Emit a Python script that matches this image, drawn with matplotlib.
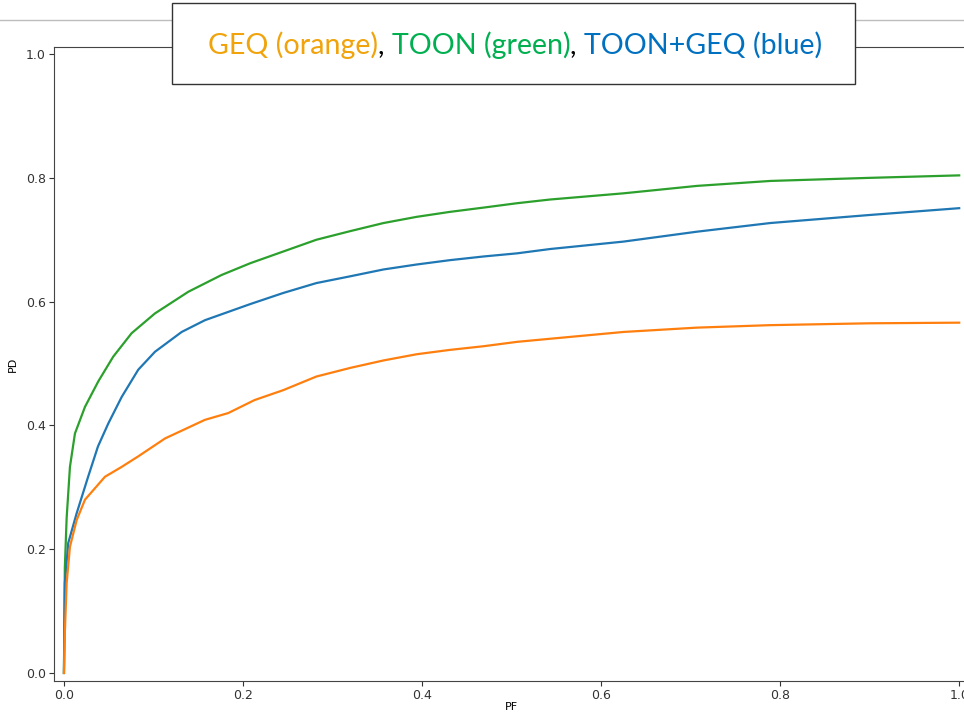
import matplotlib
matplotlib.use('Agg')
import matplotlib.pyplot as plt
from matplotlib.patches import Rectangle
from matplotlib.lines import Line2D

# ROC-like curves (PF -> PD)
geq_pf = [0, 0.001, 0.003, 0.0067, 0.0142, 0.0235, 0.0458, 0.0645, 0.083, 0.113, 0.1575,
          0.1836, 0.213, 0.245, 0.282, 0.32, 0.357, 0.394, 0.431, 0.469, 0.506, 0.543,
          0.625, 0.707, 0.789, 0.9, 1.0]
geq_pd = [0, 0.065, 0.145, 0.204, 0.247, 0.28, 0.317, 0.333, 0.35, 0.379, 0.409,
          0.42, 0.441, 0.457, 0.479, 0.493, 0.505, 0.515, 0.522, 0.528, 0.535, 0.540,
          0.551, 0.558, 0.562, 0.565, 0.566]

toon_pf = [0, 0.001, 0.003, 0.0067, 0.0123, 0.0235, 0.0383, 0.055, 0.0756, 0.1017, 0.139,
           0.176, 0.208, 0.245, 0.282, 0.32, 0.357, 0.394, 0.431, 0.469, 0.506, 0.543,
           0.625, 0.707, 0.789, 0.9, 1.0]
toon_pd = [0, 0.17, 0.25, 0.333, 0.387, 0.43, 0.471, 0.511, 0.549, 0.581, 0.616,
           0.643, 0.662, 0.681, 0.70, 0.714, 0.727, 0.737, 0.745, 0.752, 0.759, 0.765,
           0.775, 0.787, 0.795, 0.800, 0.804]

both_pf = [0, 0.001, 0.0048, 0.0142, 0.027, 0.038, 0.0495, 0.0645, 0.083, 0.1017, 0.1315,
           0.1575, 0.208, 0.245, 0.282, 0.32, 0.357, 0.394, 0.431, 0.469, 0.506, 0.543,
           0.625, 0.707, 0.789, 0.9, 1.0]
both_pd = [0, 0.145, 0.21, 0.258, 0.317, 0.366, 0.403, 0.446, 0.49, 0.519, 0.551,
           0.57, 0.596, 0.614, 0.63, 0.641, 0.652, 0.66, 0.667, 0.673, 0.678, 0.685,
           0.697, 0.713, 0.727, 0.740, 0.751]

title_parts = [('GEQ (orange)', '#F0A30A'), (', ', 'black'),
               ('TOON (green)', '#00B050'), (', ', 'black'),
               ('TOON+GEQ (blue)', '#0070C0')]

fig = plt.figure(figsize=(9.64, 7.14), dpi=100)

# slide decoration line behind the title box
fig.add_artist(Line2D([0, 1], [0.972, 0.972], color='#bdbdbd', lw=1.0))

ax = fig.add_axes([0.0563, 0.0462, 0.948, 0.8876])
ax.plot(toon_pf, toon_pd, color='tab:green', lw=1.6)
ax.plot(both_pf, both_pd, color='tab:blue', lw=1.6)
ax.plot(geq_pf, geq_pd, color='tab:orange', lw=1.6)
ax.set_xlim(-0.0108, 1.01)
ax.set_ylim(-0.013, 1.011)
ax.set_xticks([0, 0.2, 0.4, 0.6, 0.8, 1.0])
ax.set_yticks([0, 0.2, 0.4, 0.6, 0.8, 1.0])
ax.tick_params(labelsize=9, colors='#333333', pad=2.5)
ax.set_xlabel('PF', fontsize=8, labelpad=0)
ax.set_ylabel('PD', fontsize=8, labelpad=6)
for sp in ax.spines.values():
    sp.set_color('#444444')

# title box
fig.add_artist(Rectangle((0.1784, 0.8824), 0.7086, 0.1134, transform=fig.transFigure,
                         facecolor='white', edgecolor='#333333', lw=1.0, zorder=5))

fig.canvas.draw()
renderer = fig.canvas.get_renderer()
x = 208 / 964
y = 0.937
for txt, col in title_parts:
    t = fig.text(x, y, txt, color=col, fontsize=20.6, family='Lato', va='center', ha='left', zorder=6)
    bb = t.get_window_extent(renderer=renderer)
    x += bb.width / fig.bbox.width

fig.savefig('out.png', dpi=100)
